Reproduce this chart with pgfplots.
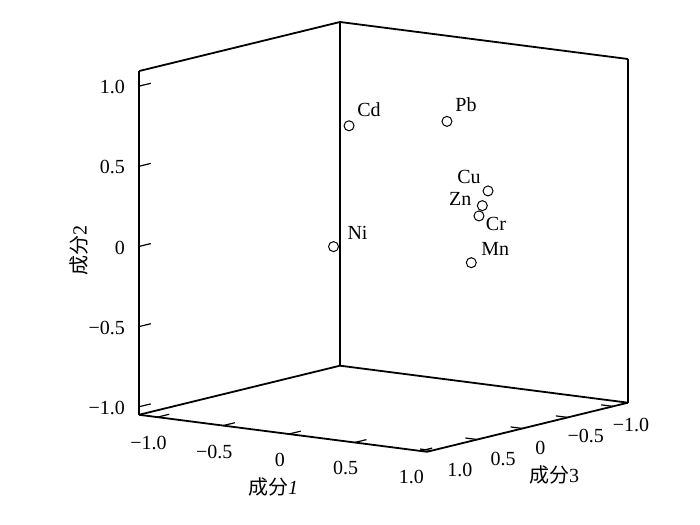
\documentclass[border=0pt]{standalone}
\usepackage{fontspec}
\setmainfont{Liberation Serif}
\newfontfamily\cjk{Noto Sans CJK SC}
\usepackage{pgfplots}
\usepackage{pgfplotstable}
\pgfplotsset{compat=1.18}
\pgfplotstableread{
x y z lab dx dy
0.10 0.536 0.812 Cd 20 16
0.40 -0.110 0.782 Pb 19 17
0.85 0.090 0.423 Cu -19 14
0.85 0.153 0.340 Zn -22 7
0.85 0.190 0.281 Cr 17 -8
0.85 0.275 0.001 Mn 24 14
0.15 0.780 0.097 Ni 24 14
}\loadings
\begin{document}
\begin{tikzpicture}
\path[use as bounding box] (0pt,0pt) rectangle (700pt,-524pt);
\begin{axis}[
  at={(384.4pt,-242.4pt)}, anchor=origin,
  x={(131.5pt,-16.9pt)}, y={(90.5pt,22.1pt)}, y dir=reverse, z={(0pt,160.3pt)},
  xmin=-1.14, xmax=1.05, ymin=-1.166, ymax=1.055, zmin=-1.05, zmax=1.094,
  clip=false,
  axis line style={line width=1.8pt},
  tick style={draw=none},
  xtick={-1,-0.5,0,0.5,1}, ytick={-1,-0.5,0,0.5,1}, ztick={-1,-0.5,0,0.5,1},
  xticklabels={−1.0,−0.5,0,0.5,1.0},
  yticklabels={−1.0\hspace{18pt},−0.5\hspace{18pt},0,\hspace{16pt}0.5,\hspace{20pt}1.0},
  zticklabels={−1.0,−0.5,0,0.5,1.0},
  ticklabel style={font=\fontsize{20}{24}\selectfont, inner sep=0pt},
  xticklabel style={anchor=center, xshift=-9pt, yshift=-26pt},
  yticklabel style={anchor=center, xshift=18pt, yshift=-19pt},
  zticklabel style={anchor=east, xshift=-14pt, yshift=-1pt},
]
\addplot3[only marks, mark=o, mark size=5pt, mark options={line width=1pt, black},
  nodes near coords, point meta=explicit symbolic,
  visualization depends on={\thisrow{dx}\as\labdx},
  visualization depends on={\thisrow{dy}\as\labdy},
  every node near coord/.append style={anchor=center, xshift=\labdx pt, yshift=\labdy pt, font=\fontsize{20}{24}\selectfont, text=black}]
  table[x=x, y=y, z=z, meta=lab] {\loadings};
\pgfplotsinvokeforeach{-1,-0.5,0,0.5,1}{
  \draw[line width=1.2pt] (axis cs:#1,1.055,-1.05) -- (axis cs:#1,0.925,-1.05);
  \draw[line width=1.2pt] (axis cs:1.05,#1,-1.05) -- (axis cs:0.96,#1,-1.05);
  \draw[line width=1.2pt] (axis cs:-1.14,1.055,#1) -- (axis cs:-1.14,0.925,#1);
}
\end{axis}
\node[font=\fontsize{20}{24}\selectfont] at (273pt,-487pt) {{\cjk 成分}\textit{1}};
\node[font=\fontsize{20}{24}\selectfont] at (554pt,-475pt) {{\cjk 成分}3};
\node[font=\fontsize{20}{24}\selectfont, rotate=90] at (79pt,-250pt) {{\cjk 成分}2};
\end{tikzpicture}
\end{document}
